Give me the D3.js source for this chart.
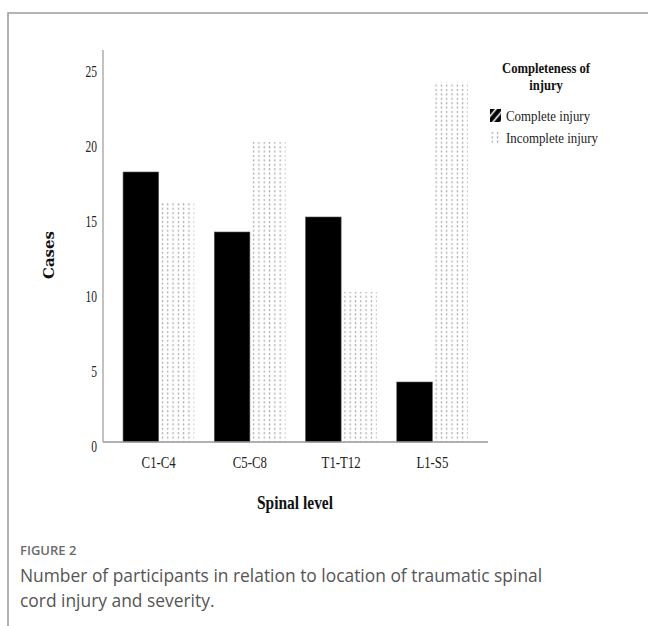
<!DOCTYPE html>
<html>
<head>
<meta charset="utf-8">
<script src="https://cdn.jsdelivr.net/npm/d3@7"></script>
<style>
  body { margin: 0; background: #fff; }
  svg { display: block; }
</style>
</head>
<body>
<div id="chart"></div>
<script>
// chart data
var levels = ["C1-C4", "C5-C8", "T1-T12", "L1-S5"];
var series = ["Complete injury", "Incomplete injury"];
var complete = [18, 14, 15, 4];
var incomplete = [16, 20, 10, 24];
var yTicks = [0, 5, 10, 15, 20, 25];

var W = 648, H = 626;

var svg = d3.select("#chart")
  .append("svg")
  .attr("width", W)
  .attr("height", H);

var defs = svg.append("defs");

// dotted pattern for incomplete injury
var dots = defs.append("pattern")
  .attr("id", "dots")
  .attr("patternUnits", "userSpaceOnUse")
  .attr("width", 5.3)
  .attr("height", 4.4);
dots.append("rect")
  .attr("x", 1.6).attr("y", 1)
  .attr("width", 1.3).attr("height", 2)
  .attr("fill", "#a8a8a8");

// hatch for the complete legend swatch
var hatch = defs.append("pattern")
  .attr("id", "hatch")
  .attr("patternUnits", "userSpaceOnUse")
  .attr("width", 6).attr("height", 6)
  .attr("patternTransform", "rotate(40)");
hatch.append("rect").attr("width", 6).attr("height", 6).attr("fill", "#000");
hatch.append("rect").attr("x", 3.8).attr("width", 1.6).attr("height", 6).attr("fill", "#fff");

// frame
svg.append("path")
  .attr("d", "M8,626 L8,13 L648,13")
  .attr("fill", "none")
  .attr("stroke", "#9c9c9c")
  .attr("stroke-width", 1.6);

var x0 = 103, x1 = 488, yBase = 442;

var x = d3.scaleBand()
  .domain(levels)
  .range([x0, x1])
  .paddingInner(0.22)
  .paddingOuter(0.22);

var xs = d3.scaleBand()
  .domain(series)
  .range([0, x.bandwidth()]);

var y = d3.scaleLinear()
  .domain([0, 25])
  .range([yBase, yBase - 375]);

var rows = levels.map(function(l, i) {
  return { level: l, values: [
    { s: series[0], v: complete[i] },
    { s: series[1], v: incomplete[i] }
  ]};
});

// bars
var g = svg.append("g");
g.selectAll("g.grp")
  .data(rows)
  .enter()
  .append("g")
  .attr("class", "grp")
  .attr("transform", function(d) { return "translate(" + x(d.level) + ",0)"; })
  .selectAll("rect")
  .data(function(d) { return d.values; })
  .enter()
  .append("rect")
  .attr("x", function(d) { return xs(d.s); })
  .attr("y", function(d) { return y(d.v); })
  .attr("width", xs.bandwidth())
  .attr("height", function(d) { return yBase - y(d.v); })
  .attr("fill", function(d) { return d.s == series[0] ? "#000" : "url(#dots)"; })
  .attr("stroke", function(d) { return d.s == series[0] ? "#555" : "none"; })
  .attr("stroke-width", 0.6);

// axes
svg.append("line")
  .attr("x1", x0).attr("x2", x0)
  .attr("y1", 50).attr("y2", yBase)
  .attr("stroke", "#999").attr("stroke-width", 1.2);
svg.append("line")
  .attr("x1", x0).attr("x2", x1)
  .attr("y1", yBase).attr("y2", yBase)
  .attr("stroke", "#999").attr("stroke-width", 1.6);

var serif = "'Liberation Serif', 'Times New Roman', serif";

// y tick labels
svg.selectAll("text.ytick")
  .data(yTicks)
  .enter()
  .append("text")
  .attr("class", "ytick")
  .attr("transform", function(d) { return "translate(97," + (y(d) + 9.5) + ") scale(0.72,1)"; })
  .attr("text-anchor", "end")
  .attr("font-family", serif)
  .attr("font-size", 16)
  .attr("fill", "#222")
  .text(function(d) { return d; });

// x tick labels
svg.selectAll("text.xtick")
  .data(levels)
  .enter()
  .append("text")
  .attr("class", "xtick")
  .attr("transform", function(d) { return "translate(" + (x(d) + x.bandwidth() / 2) + ",468) scale(0.8,1)"; })
  .attr("text-anchor", "middle")
  .attr("font-family", serif)
  .attr("font-size", 16)
  .attr("fill", "#222")
  .text(function(d) { return d; });

// axis titles
svg.append("text")
  .attr("transform", "translate(54,255) rotate(-90)")
  .attr("text-anchor", "middle")
  .attr("font-family", "'DejaVu Serif', serif")
  .attr("font-weight", "bold")
  .attr("font-size", 15)
  .attr("fill", "#111")
  .text("Cases");

svg.append("text")
  .attr("transform", "translate(295,509) scale(0.86,1)")
  .attr("text-anchor", "middle")
  .attr("font-family", serif)
  .attr("font-weight", "bold")
  .attr("font-size", 18)
  .attr("fill", "#111")
  .text("Spinal level");

// legend
var lg = svg.append("g");
lg.append("text")
  .attr("transform", "translate(546,73) scale(0.87,1)")
  .attr("text-anchor", "middle")
  .attr("font-family", serif)
  .attr("font-weight", "bold")
  .attr("font-size", 14.5)
  .attr("fill", "#111")
  .text("Completeness of");
lg.append("text")
  .attr("transform", "translate(546,90) scale(0.87,1)")
  .attr("text-anchor", "middle")
  .attr("font-family", serif)
  .attr("font-weight", "bold")
  .attr("font-size", 14.5)
  .attr("fill", "#111")
  .text("injury");

var items = lg.selectAll("g.item")
  .data(series)
  .enter()
  .append("g")
  .attr("class", "item")
  .attr("transform", function(d, i) { return "translate(490," + (109 + i * 22) + ")"; });
items.append("rect")
  .attr("width", 11).attr("height", 13)
  .attr("fill", function(d, i) { return i == 0 ? "url(#hatch)" : "url(#dots)"; });
items.append("text")
  .attr("transform", "translate(16,12) scale(0.86,1)")
  .attr("font-family", serif)
  .attr("font-size", 15)
  .attr("fill", "#222")
  .text(function(d) { return d; });

// caption
svg.append("text")
  .attr("x", 20).attr("y", 555)
  .attr("font-family", "'Open Sans', sans-serif")
  .attr("font-size", 13)
  .attr("font-weight", 600)
  .attr("fill", "#6b6b6b")
  .text("FIGURE 2");
svg.append("text")
  .attr("x", 20).attr("y", 582)
  .attr("font-family", "'Open Sans', sans-serif")
  .attr("font-size", 17.4)
  .attr("fill", "#555")
  .text("Number of participants in relation to location of traumatic spinal");
svg.append("text")
  .attr("x", 20).attr("y", 607)
  .attr("font-family", "'Open Sans', sans-serif")
  .attr("font-size", 17.4)
  .attr("fill", "#555")
  .text("cord injury and severity.");
</script>
</body>
</html>
